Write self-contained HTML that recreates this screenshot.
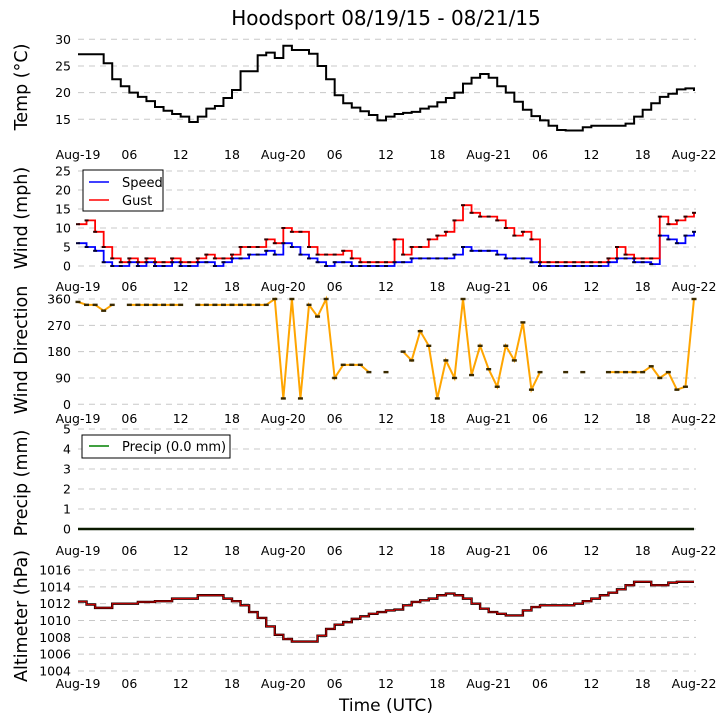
<!DOCTYPE html>
<html><head><meta charset="utf-8"><style>
html,body{margin:0;padding:0;background:#fff}
svg{display:block;font-family:"DejaVu Sans","Liberation Sans",sans-serif}
</style></head><body>
<svg id="chart" width="726" height="725" viewBox="0 0 726 725" xmlns="http://www.w3.org/2000/svg">
<text x="386" y="25" font-size="20" text-anchor="middle">Hoodsport 08/19/15 - 08/21/15</text>
<text x="386" y="711" font-size="17" text-anchor="middle">Time (UTC)</text>
</svg>
<script>
const xTickLabels=["Aug-19","06","12","18","Aug-20","06","12","18","Aug-21","06","12","18","Aug-22"];
const temps=[27.2,27.2,27.2,25.5,22.5,21.2,20,19.2,18.4,17.3,16.6,16,15.5,14.5,15.5,17,17.5,19,20.5,24,24,27,27.5,26.5,28.8,28,28,27.3,25,22.5,19.5,18,17.2,16.5,15.8,14.8,15.5,16,16.2,16.4,17,17.4,18.2,19,20,21.7,22.8,23.5,22.8,21.2,20,18.3,16.8,15.6,14.8,13.8,13,12.9,12.9,13.5,13.8,13.8,13.8,13.8,14.2,15.5,16.8,18,19.2,19.8,20.6,20.8,20.3];
const windSpeed=[6,5,4,1,0,0,1,0,1,0,0,1,0,0,1,1,0,1,2,2,3,3,4,3,6,5,3,2,1,0,1,1,0,0,0,0,0,1,1,2,2,2,2,2,3,5,4,4,4,3,2,2,2,1,0,0,0,0,0,0,0,0,1,2,2,1,1,0.5,8,7,6,8,9];
const windGust=[11,12,9,5,2,1,2,1,2,1,1,2,1,1,2,3,2,2,3,5,5,5,7,6,10,9,9,5,3,3,3,4,2,1,1,1,1,7,3,5,5,7,8,9,12,16,14,13,13,12,10,8,9,7,1,1,1,1,1,1,1,1,2,5,3,2,2,2,13,11,12,13,14];
const windDir=[350,340,340,320,340,null,340,340,340,340,340,340,340,null,340,340,340,340,340,340,340,340,340,360,20,360,20,340,300,360,90,135,135,135,110,null,110,null,180,150,250,200,20,150,90,360,100,200,120,60,200,150,280,50,110,null,null,110,null,110,null,null,110,110,110,110,110,130,90,110,50,60,360];
const precip=new Array(73).fill(0);
const altimeter=[1012.25,1011.9,1011.5,1011.5,1012,1012,1012,1012.2,1012.2,1012.3,1012.3,1012.6,1012.6,1012.6,1013,1013,1013,1012.6,1012.3,1011.8,1011,1010.3,1009.3,1008.3,1007.8,1007.5,1007.5,1007.5,1008.2,1009,1009.5,1009.8,1010.2,1010.5,1010.8,1011,1011.2,1011.3,1011.8,1012.2,1012.4,1012.6,1013,1013.2,1013,1012.6,1012,1011.4,1011,1010.8,1010.6,1010.6,1011.2,1011.6,1011.8,1011.8,1011.8,1011.8,1012,1012.3,1012.6,1013,1013.3,1013.7,1014.2,1014.6,1014.6,1014.2,1014.2,1014.5,1014.6,1014.6,1014.6];
const tempTicks=[15,20,25,30];
const windTicks=[0,5,10,15,20,25];
const dirTicks=[0,90,180,270,360];
const precipTicks=[0,1,2,3,4,5];
const altTicks=[1004,1006,1008,1010,1012,1014,1016];

const NS="http://www.w3.org/2000/svg";
const svg=document.getElementById('chart');
function el(tag,attrs,parent){const e=document.createElementNS(NS,tag);for(const k in attrs)e.setAttribute(k,attrs[k]);(parent||svg).appendChild(e);return e;}
const X0=78,X1=694,HOURS=72;
function xs(h){return X0+h*(X1-X0)/HOURS;}
function mkY(v0,y0,v1,y1){return v=>y0+(v-v0)*(y1-y0)/(v1-v0);}

const panels=[
 {name:'temp',label:'Temp (\u00b0C)',y:mkY(30,39.3,15,119.3),ticks:tempTicks,lblY:87,xlab:159},
 {name:'wind',label:'Wind (mph)',y:mkY(25,171,0,266),ticks:windTicks,lblY:218,xlab:291},
 {name:'direction',label:'Wind Direction',y:mkY(360,299,0,404.3),ticks:dirTicks,lblY:350,xlab:423},
 {name:'precip',label:'Precip (mm)',y:mkY(5,429,0,529),ticks:precipTicks,lblY:483,xlab:555},
 {name:'altimeter',label:'Altimeter (hPa)',y:mkY(1016,570,1004,671),ticks:altTicks,lblY:616,xlab:688}
];
panels.forEach(p=>{
 const g=el('g',{});
 
 
 p.ticks.forEach(t=>{
  const yy=p.y(t);
  const gl=el('line',{x1:X0,x2:X1+2,y1:yy,y2:yy,stroke:'#c8c8c8','stroke-width':1,'stroke-dasharray':'6,5'},g);
  
  
  const tl=el('text',{x:71,y:yy+4.5,'font-size':12.5,'text-anchor':'end'},g);
  tl.textContent=t;
  
  
 });
 xTickLabels.forEach((s,i)=>{
  const tl=el('text',{x:xs(i*6),y:p.xlab,'font-size':12.5,'text-anchor':'middle'},g);
  tl.textContent=s;
  
  
 });
 const yl=el('text',{x:0,y:0,'font-size':17.5,'text-anchor':'middle',transform:`translate(27,${p.lblY}) rotate(-90)`},g);
 yl.textContent=p.label;
 
 
 p.g=g;
});
function stepPath(arr,yf){let d='';let pen=false;arr.forEach((v,i)=>{if(v===null){pen=false;return;}const x=xs(i),y=yf(v);if(!pen){d+=`M${x},${y}`;pen=true;}else{d+=`H${x}V${y}`;}});return d;}
function linePath(arr,yf){let d='';let pen=false;arr.forEach((v,i)=>{if(v===null){pen=false;return;}const x=xs(i),y=yf(v);d+=(pen?'L':'M')+x+','+y;pen=true;});return d;}

let P=panels[0];
let l=el('path',{d:stepPath(temps,P.y),fill:'none',stroke:'#000','stroke-width':2},P.g);

P=panels[1];
l=el('path',{d:stepPath(windSpeed,P.y),fill:'none',stroke:'#0000ff','stroke-width':1.8},P.g);

l=el('path',{d:stepPath(windGust,P.y),fill:'none',stroke:'#ff0000','stroke-width':1.8},P.g);

windGust.forEach((v,i)=>{const d=el('rect',{x:xs(i)-2,y:P.y(v)-1,width:4,height:2,fill:'#300'},P.g);});
windSpeed.forEach((v,i)=>{const d=el('rect',{x:xs(i)-2,y:P.y(v)-1,width:4,height:2,fill:'#003'},P.g);});
let lg=el('g',{},P.g);

el('rect',{x:83,y:170,width:80,height:41,fill:'#fff',stroke:'#000','stroke-width':1},lg);
el('line',{x1:89,x2:109,y1:182,y2:182,stroke:'#0000ff','stroke-width':1.6},lg);
el('line',{x1:89,x2:109,y1:200,y2:200,stroke:'#ff0000','stroke-width':1.6},lg);
let t=el('text',{x:122,y:187,'font-size':13},lg);t.textContent='Speed';

t=el('text',{x:122,y:205,'font-size':13},lg);t.textContent='Gust';

P=panels[2];
l=el('path',{d:linePath(windDir,P.y),fill:'none',stroke:'#ffa500','stroke-width':2},P.g);

windDir.forEach((v,i)=>{if(v===null)return;const d=el('rect',{x:xs(i)-2.5,y:P.y(v)-1.2,width:5,height:2.4,fill:'#3a2a00'},P.g);});
P=panels[3];
l=el('path',{d:linePath(precip,P.y),fill:'none',stroke:'#0a1a00','stroke-width':2.4},P.g);

lg=el('g',{},P.g);

el('rect',{x:82,y:435,width:148,height:23,fill:'#fff',stroke:'#000','stroke-width':1},lg);
el('line',{x1:89,x2:109,y1:446,y2:446,stroke:'#008000','stroke-width':1.6},lg);
t=el('text',{x:122,y:451,'font-size':13},lg);t.textContent='Precip (0.0 mm)';

P=panels[4];
l=el('path',{d:stepPath(altimeter,P.y),fill:'none',stroke:'#2a0000','stroke-width':2.4},P.g);

l=el('path',{d:stepPath(altimeter,P.y),fill:'none',stroke:'#ff0000','stroke-width':0.7},P.g);

</script>
</body></html>
